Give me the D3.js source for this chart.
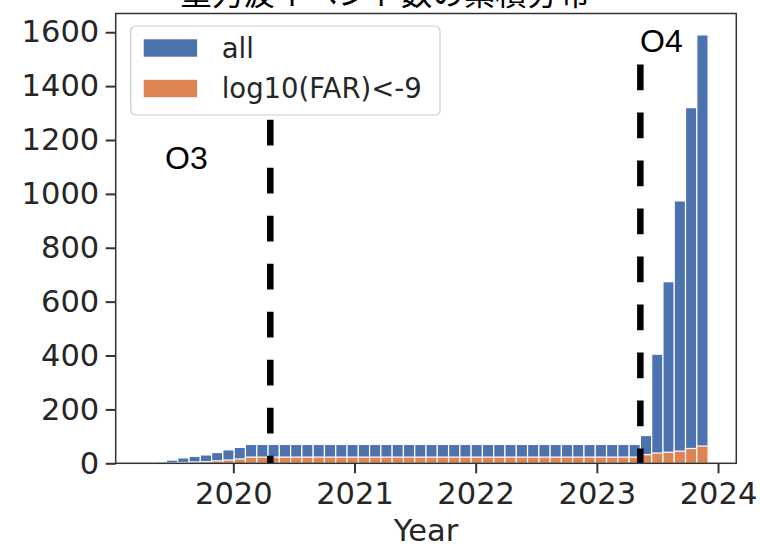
<!DOCTYPE html>
<html><head><meta charset="utf-8">
<script src="https://cdn.jsdelivr.net/npm/d3@7"></script>
<style>
html,body{margin:0;padding:0;background:#fff;}
svg{display:block;}
</style></head><body>
<svg id="chart" width="760" height="544"></svg>
<script>
// Histogram bins: 50 equal-width bins, first edge and width in decimal years
const binStart = 2019.262;
const binWidth = 0.09312;
const binCount = 50;

// Cumulative number of events at the end of each bin
const allCounts = [1, 5, 12, 20, 26, 31, 40, 50, 59,
  70, 70, 70, 70, 70, 70, 70, 70, 70, 70, 70, 70, 70, 70, 70, 70, 70, 70,
  70, 70, 70, 70, 70, 70, 70, 70, 70, 70, 70, 70, 70, 70, 70, 70, 70,
  103, 405, 674, 974, 1320, 1590];
const farCounts = [0, 0, 1, 3, 5, 6, 9, 12, 16,
  23, 23, 23, 23, 23, 23, 23, 23, 23, 23, 23, 23, 23, 23, 23, 23, 23, 23,
  23, 23, 23, 23, 23, 23, 23, 23, 23, 23, 23, 23, 23, 23, 23, 23, 23,
  32, 38, 41, 45, 55, 64];

const seriesNames = ["all", "log10(FAR)<-9"];
const seriesColors = ["#4c72b0", "#dd8452"];

const xTickYears = [2020, 2021, 2022, 2023, 2024];
const yTickValues = [0, 200, 400, 600, 800, 1000, 1200, 1400, 1600];

// Observing-run boundaries: label, date (decimal year), top of marker line
const runLabels = ["O3", "O4"];
const runDates = [2020.305, 2023.359];
const runLineTops = [1275, 1480];

const titleText = "重力波イベント数の累積分布";
const xLabelText = "Year";

// ---- layout ----
const svg = d3.select("#chart");
const plot = {left: 115.7, right: 736.3, top: 13.5, bottom: 463.3};
const tickFont = "'DejaVu Sans', sans-serif";
const inkColor = "#262626";
const spineColor = "#333333";
const tickSize = 30.5;

const edges = d3.range(binCount + 1).map(i => binStart + i * binWidth);
const dataMin = edges[0], dataMax = edges[binCount];
const span = dataMax - dataMin;

const x = d3.scaleLinear()
  .domain([dataMin - 0.05 * span, dataMax + 0.05 * span])
  .range([plot.left, plot.right]);
const y = d3.scaleLinear()
  .domain([0, d3.max(allCounts) * 1.05])
  .range([plot.bottom, plot.top]);

// ---- bars (orange drawn over blue) ----
const series = [allCounts, farCounts];
series.forEach((vals, si) => {
  svg.append("g")
    .selectAll("rect")
    .data(vals)
    .join("rect")
    .attr("x", (d, i) => x(edges[i]))
    .attr("width", (d, i) => x(edges[i + 1]) - x(edges[i]))
    .attr("y", d => y(d))
    .attr("height", d => y(0) - y(d))
    .attr("fill", seriesColors[si])
    .attr("stroke", "#ffffff")
    .attr("stroke-width", 1.2);
});

// ---- run boundary lines ----
runDates.forEach((d, i) => {
  svg.append("line")
    .attr("x1", x(d)).attr("x2", x(d))
    .attr("y1", y(runLineTops[i])).attr("y2", y(0))
    .attr("stroke", "#000")
    .attr("stroke-width", 6.5)
    .attr("stroke-dasharray", "25.7 22.3");
});

// ---- run labels ----
const runLabelAnchors = [[165, 168.5], [640, 52]];
runLabels.forEach((lab, i) => {
  svg.append("text")
    .attr("x", runLabelAnchors[i][0]).attr("y", runLabelAnchors[i][1])
    .attr("font-family", "'Liberation Sans', Arial, sans-serif").attr("font-size", 32)
    .attr("fill", "#000").text(lab);
});

// ---- frame ----
svg.append("rect")
  .attr("x", plot.left).attr("y", plot.top)
  .attr("width", plot.right - plot.left).attr("height", plot.bottom - plot.top)
  .attr("fill", "none").attr("stroke", spineColor).attr("stroke-width", 1.5);

// ---- axes ----
const xAxis = d3.axisBottom(x).tickValues(xTickYears).tickFormat(d3.format("d"))
  .tickSize(10).tickPadding(9);
const gx = svg.append("g").attr("transform", `translate(0,${plot.bottom})`).call(xAxis);
const yAxis = d3.axisLeft(y).tickValues(yTickValues).tickFormat(d3.format("d"))
  .tickSize(10).tickPadding(6.5);
const gy = svg.append("g").attr("transform", `translate(${plot.left},0)`).call(yAxis);

[gx, gy].forEach(g => {
  g.select(".domain").remove();
  g.selectAll(".tick line").attr("stroke", spineColor).attr("stroke-width", 2);
  g.selectAll(".tick text")
    .attr("font-family", tickFont).attr("font-size", tickSize).attr("fill", inkColor);
});

// ---- axis label & title ----
svg.append("text")
  .attr("x", (plot.left + plot.right) / 2).attr("y", 541)
  .attr("text-anchor", "middle")
  .attr("font-family", tickFont).attr("font-size", tickSize).attr("fill", inkColor)
  .text(xLabelText);

svg.append("text")
  .attr("x", 385).attr("y", 5)
  .attr("text-anchor", "middle")
  .attr("font-family", "'Noto Sans CJK JP', sans-serif").attr("font-size", 31.5)
  .attr("fill", "#000")
  .text(titleText);

// ---- legend ----
const lg = svg.append("g");
lg.append("rect")
  .attr("x", 130.7).attr("y", 26).attr("width", 309.3).attr("height", 89)
  .attr("rx", 5).attr("fill", "#fff").attr("fill-opacity", 0.8)
  .attr("stroke", "#cccccc").attr("stroke-width", 1.2);
seriesNames.forEach((name, i) => {
  lg.append("rect")
    .attr("x", 143.3).attr("y", 39 + i * 40.5).attr("width", 54).attr("height", 18)
    .attr("fill", seriesColors[i]).attr("stroke", "#fff").attr("stroke-width", 0.6);
  lg.append("text")
    .attr("x", 221.7).attr("y", 57.5 + i * 40.5)
    .attr("font-family", tickFont).attr("font-size", 27.5).attr("fill", inkColor)
    .text(name);
});
</script>
</body></html>
